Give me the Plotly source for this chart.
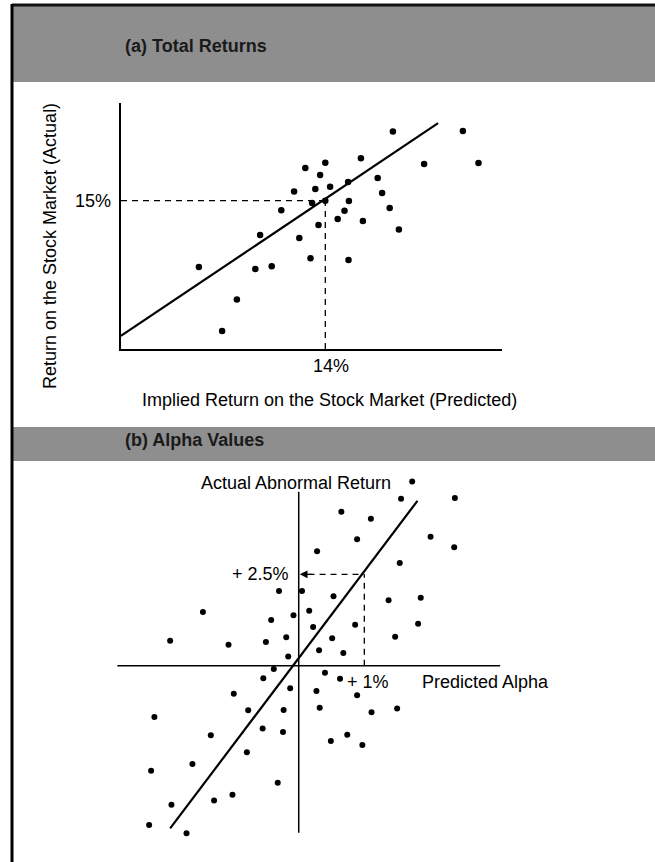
import plotly.graph_objects as go

W, H = 655, 862

# ---------------- Panel (a): Total Returns (percent) ----------------
a_pred = [15.69, 17.44, 14.00, 13.50, 13.87, 14.89, 16.47, 17.83, 14.57, 14.12,
          13.75, 13.22, 15.31, 15.42, 13.67, 14.00, 14.59, 12.90, 14.48, 15.61,
          14.31, 14.94, 13.83, 15.84, 12.37, 13.35, 13.63, 14.58, 10.84, 12.25,
          12.66, 11.79, 11.42]
a_actual = [16.73, 16.74, 15.95, 15.82, 15.64, 16.06, 15.92, 15.94, 15.47, 15.35,
            15.29, 15.23, 15.57, 15.19, 14.94, 15.00, 14.99, 14.76, 14.75, 14.82,
            14.54, 14.49, 14.39, 14.28, 14.14, 14.07, 13.56, 13.52, 13.34, 13.29,
            13.36, 12.53, 11.74]
a_fit_x = [8.89, 16.82]
a_fit_y = [11.62, 16.94]
a_ref_x = 14    # "14%"
a_ref_y = 15    # "15%"

# ---------------- Panel (b): Alpha values (percent) ----------------
b_alpha = [1.73, 1.56, 2.38, 0.65, 1.10, 2.01, 0.89, 2.37, 0.28, 1.54,
           -0.30, 0.05, 0.53, 1.37, 1.86, -1.46, 0.16, -0.08, -0.42, 0.22,
           0.86, 1.82, -1.96, -1.07, -0.50, -0.19, 0.51, 1.47, 0.31, 0.68,
           -0.16, -0.38, -0.54, 0.40, 0.63, -0.13, -0.99, 0.27, 0.89, -0.77,
           -0.23, 0.32, 1.11, 1.50, -2.20, -1.34, -0.55, -0.24, 0.49, 0.74,
           0.97, -0.79, -1.62, -2.25, -0.32, -1.94, -1.29, -1.01, -2.28, -1.71]
b_abnormal = [5.04, 4.57, 4.59, 4.21, 4.02, 3.53, 3.46, 3.24, 3.13, 2.81,
              2.04, 2.04, 1.90, 1.79, 1.86, 1.47, 1.50, 1.38, 1.25, 1.06,
              1.12, 1.15, 0.68, 0.57, 0.65, 0.78, 0.75, 0.79, 0.42, 0.35,
              0.25, -0.09, -0.34, -0.19, -0.36, -0.62, -0.77, -0.69, -0.81, -1.22,
              -1.21, -1.15, -1.27, -1.17, -1.40, -1.90, -1.72, -1.81, -2.06, -1.89,
              -2.17, -2.37, -2.69, -2.87, -3.20, -3.80, -3.69, -3.53, -4.36, -4.58]
b_fit_x = [-1.96, 1.81]
b_fit_y = [-4.45, 4.51]
b_ref_alpha = 1.0     # "+ 1%"
b_ref_return = 2.5    # "+ 2.5%"
b_axis_x = [-2.765, 3.07]
b_axis_y = [-4.57, 4.76]

FONT = "Liberation Sans, Arial, Helvetica, sans-serif"


def px(x):
    return x / W


def py(y):
    return 1 - y / H


fig = go.Figure()

# Panel a
fig.add_trace(go.Scatter(x=a_fit_x, y=a_fit_y, mode="lines",
                         line=dict(color="black", width=2.2),
                         xaxis="x", yaxis="y", showlegend=False, hoverinfo="skip"))
fig.add_trace(go.Scatter(x=a_pred, y=a_actual, mode="markers",
                         marker=dict(color="black", size=6.5),
                         xaxis="x", yaxis="y", showlegend=False, cliponaxis=False))

# Panel b
fig.add_trace(go.Scatter(x=b_fit_x, y=b_fit_y, mode="lines",
                         line=dict(color="black", width=2.2),
                         xaxis="x2", yaxis="y2", showlegend=False, hoverinfo="skip"))
fig.add_trace(go.Scatter(x=b_alpha, y=b_abnormal, mode="markers",
                         marker=dict(color="black", size=6),
                         xaxis="x2", yaxis="y2", showlegend=False, cliponaxis=False))

a_xrange = [8.8925, 18.4175]
a_yrange = [11.2925, 17.4425]
b_xrange = [-3.029, 3.373]
b_yrange = [-5.041, 5.353]

shapes = []
# grey header bands
shapes.append(dict(type="rect", xref="paper", yref="paper",
                   x0=px(12), x1=1, y0=py(82), y1=py(4),
                   fillcolor="#8e8e8e", line=dict(width=0), layer="below"))
shapes.append(dict(type="rect", xref="paper", yref="paper",
                   x0=px(12), x1=1, y0=py(461), y1=py(427),
                   fillcolor="#8e8e8e", line=dict(width=0), layer="below"))
# top dark edge
shapes.append(dict(type="line", xref="paper", yref="paper",
                   x0=px(12), x1=1, y0=py(5), y1=py(5),
                   line=dict(color="#111", width=3)))
# left border
shapes.append(dict(type="line", xref="paper", yref="paper",
                   x0=px(12), x1=px(12), y0=0, y1=py(4),
                   line=dict(color="black", width=3)))

# panel a dashed guides
shapes.append(dict(type="line", xref="x", yref="y",
                   x0=a_xrange[0], x1=a_ref_x, y0=a_ref_y, y1=a_ref_y,
                   line=dict(color="black", width=1.3, dash="6px,5px")))
shapes.append(dict(type="line", xref="x", yref="y",
                   x0=a_ref_x, x1=a_ref_x, y0=a_yrange[0], y1=a_ref_y,
                   line=dict(color="black", width=1.3, dash="6px,5px")))

# panel b axes
shapes.append(dict(type="line", xref="x2", yref="y2",
                   x0=0, x1=0, y0=b_axis_y[0], y1=b_axis_y[1],
                   line=dict(color="black", width=1.5)))
shapes.append(dict(type="line", xref="x2", yref="y2",
                   x0=b_axis_x[0], x1=b_axis_x[1], y0=0, y1=0,
                   line=dict(color="black", width=1.5)))
# panel b dashed guides
shapes.append(dict(type="line", xref="x2", yref="y2",
                   x0=0.15, x1=b_ref_alpha, y0=b_ref_return, y1=b_ref_return,
                   line=dict(color="black", width=1.3, dash="6px,5px")))
shapes.append(dict(type="line", xref="x2", yref="y2",
                   x0=b_ref_alpha, x1=b_ref_alpha, y0=0, y1=b_ref_return,
                   line=dict(color="black", width=1.3, dash="6px,5px")))

ann = []


def text(x, y, s, size=18, xanchor="center", yanchor="middle", angle=0,
         color="black", bold=False):
    ann.append(dict(x=px(x), y=py(y), xref="paper", yref="paper",
                    text=f"<b>{s}</b>" if bold else s, showarrow=False,
                    xanchor=xanchor, yanchor=yanchor, textangle=angle,
                    font=dict(family=FONT, size=size, color=color)))


text(123, 46, "(a) Total Returns", size=18, xanchor="left", color="#1a1a1a", bold=True)
text(123, 440, "(b) Alpha Values", size=18, xanchor="left", color="#1a1a1a", bold=True)
text(113, 201, "15%", xanchor="right")
text(331, 366, "14%")
text(50, 246, "Return on the Stock Market (Actual)", angle=-90)
text(330, 400, "Implied Return on the Stock Market (Predicted)")
text(296, 483, "Actual Abnormal Return")
text(420, 682, "Predicted Alpha", xanchor="left")
text(291, 574, "+ 2.5%", xanchor="right")
text(345, 682, "+ 1%", xanchor="left")

# arrowhead on the +2.5% guide
ann.append(dict(x=0.0, y=b_ref_return, xref="x2", yref="y2",
                ax=14, ay=0, axref="pixel", ayref="pixel",
                showarrow=True, arrowhead=2, arrowsize=1.2, arrowwidth=1.3,
                arrowcolor="black", standoff=1, text=""))

fig.update_layout(
    width=W, height=H,
    margin=dict(l=0, r=0, t=0, b=0),
    paper_bgcolor="white", plot_bgcolor="rgba(0,0,0,0)",
    font=dict(family=FONT, color="black"),
    xaxis=dict(domain=[px(121), px(502)], range=a_xrange, showline=True,
               linecolor="black", linewidth=2, showgrid=False, zeroline=False,
               showticklabels=False, ticks="", anchor="y"),
    yaxis=dict(domain=[py(349), py(103)], range=a_yrange, showline=True,
               linecolor="black", linewidth=1.5, showgrid=False, zeroline=False,
               showticklabels=False, ticks="", anchor="x"),
    xaxis2=dict(domain=[px(100), px(520)], range=b_xrange, visible=False,
                anchor="y2"),
    yaxis2=dict(domain=[py(850), py(470)], range=b_yrange, visible=False,
                anchor="x2"),
    shapes=shapes, annotations=ann,
)

fig.write_html("out.html",
               config={"displayModeBar": False},
               post_script="document.body.style.margin='0';document.body.style.overflow='hidden';")
